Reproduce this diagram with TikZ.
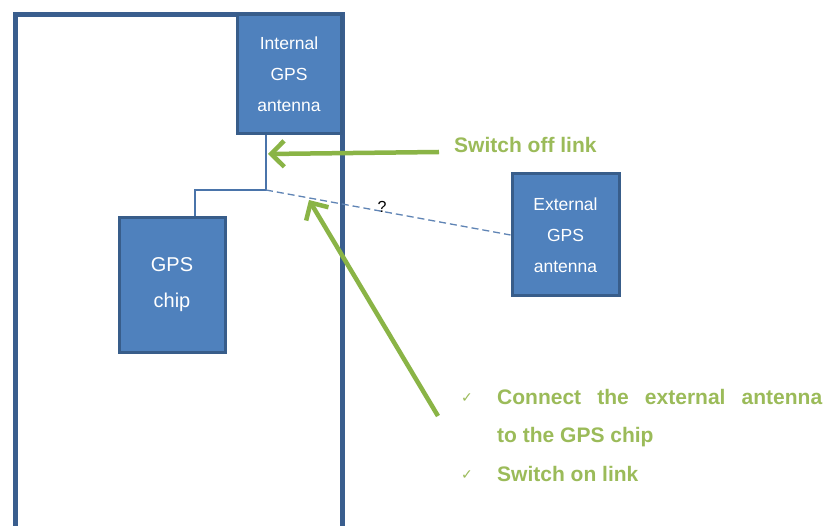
\documentclass[tikz,border=0pt]{standalone}
\usepackage{fontspec}
\setmainfont{Liberation Sans}
\newfontfamily\symfont{DejaVu Sans}
\usetikzlibrary{arrows.meta}
\definecolor{boxfill}{HTML}{4F81BD}
\definecolor{boxedge}{HTML}{385D8A}
\definecolor{frameblue}{HTML}{3A5E8E}
\definecolor{wireblue}{HTML}{4A74AA}
\definecolor{dashblue}{HTML}{5F84B5}
\definecolor{arrowgreen}{HTML}{8AB446}
\definecolor{textgreen}{HTML}{9BBB59}
\tikzset{
  block/.style={draw=boxedge, line width=3pt, fill=boxfill, text=white,
    font=\fontsize{17.5}{31}\selectfont, align=center, inner sep=0pt},
  wire/.style={draw=wireblue, line width=1.3pt},
  linkdash/.style={draw=dashblue, line width=1.3pt, dash pattern=on 7pt off 4pt},
  hint/.style={draw=arrowgreen, line width=4.5pt,
    -{Straight Barb[length=13pt, width=26pt, line width=4.5pt]}},
  note/.style={text=textgreen, font=\bfseries\fontsize{21}{38.5}\selectfont, inner sep=0pt},
  tick/.style={text=textgreen, font=\symfont\fontsize{14}{14}\selectfont, inner sep=0pt}
}
\begin{document}
\begin{tikzpicture}[x=1pt, y=-1pt]
  \useasboundingbox (0,0) rectangle (825,526);
  \fill[white] (0,0) rectangle (825,526);
  % phone outline, open at the bottom edge
  \begin{scope}
    \clip (0,0) rectangle (825,526);
    \draw[frameblue, line width=5pt] (15,540) -- (15,15) -- (342,15) -- (342,540);
  \end{scope}
  % components
  \node[block, minimum width=104pt, minimum height=119pt] (intant) at (289,74)
    {Internal\\GPS\\antenna};
  \node[block, minimum width=106pt, minimum height=135pt,
        font=\fontsize{20}{36}\selectfont] (chip) at (172,285)
    {GPS\\chip};
  \node[block, minimum width=107pt, minimum height=122pt] (extant) at (565.5,235)
    {External\\GPS\\antenna};
  % wiring between the antenna and the chip
  \coordinate (junc) at (266,190);
  \draw[wire] (intant.south -| junc) -- (junc) -- (195,190) -- (chip.north -| 195,0);
  \draw[linkdash] (junc) -- (extant.west);
  \node[font=\fontsize{16}{16}\selectfont] (q) at (382,207) {?};
  % annotations
  \node[note, anchor=base west] (offtxt) at (454,153) {Switch off link};
  \coordinate (offtail) at (439,152);
  \coordinate (offtip) at (268,154);
  \draw[hint] (offtail) -- (offtip);
  \coordinate (ontail) at (438,416);
  \coordinate (ontip) at (309,200);
  \draw[hint] (ontail) -- (ontip);
  \node[note, anchor=base west] (step1a) at (497,405)
    {\makebox[325pt][s]{Connect the external antenna}};
  \node[note, anchor=base west] (step1b) at (497,443) {to the GPS chip};
  \node[note, anchor=base west] (ontxt) at (497,482) {Switch on link};
  \node[tick] (tick1) at (467,398) {✓};
  \node[tick] (tick2) at (467,475) {✓};
\end{tikzpicture}
\end{document}
